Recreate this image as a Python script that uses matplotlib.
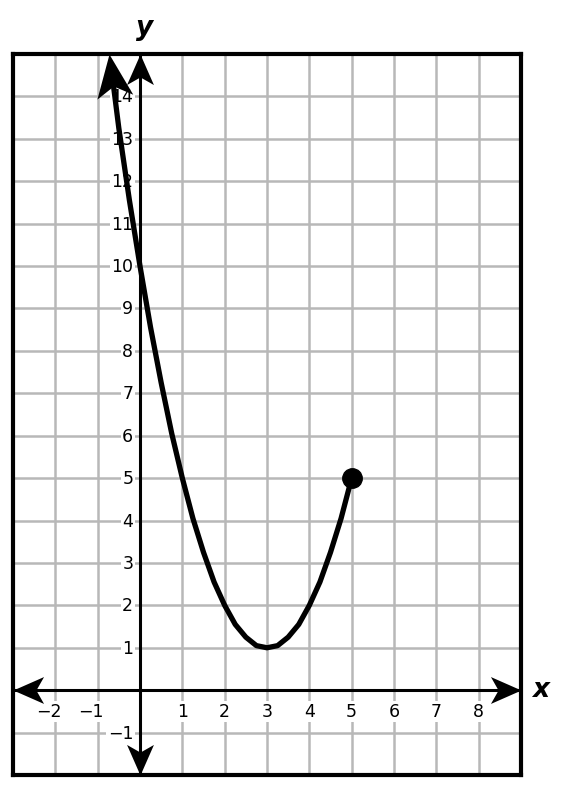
import numpy as np
import matplotlib.pyplot as plt
from matplotlib.path import Path
from matplotlib.markers import MarkerStyle
from matplotlib.transforms import Affine2D

# curve points
curve_x = [-0.74, -0.62, -0.5, -0.25, 0, 0.25, 0.5, 0.75, 1, 1.25, 1.5, 1.75, 2,
           2.25, 2.5, 2.75, 3, 3.25, 3.5, 3.75, 4, 4.25, 4.5, 4.75, 5]
curve_y = [15.0, 14.2, 13.25, 11.55, 10.0, 8.55, 7.25, 6.05, 5.0, 4.05, 3.25, 2.55, 2.0,
           1.55, 1.25, 1.05, 1.0, 1.05, 1.25, 1.55, 2.0, 2.55, 3.25, 4.05, 5.0]
end_point = (5, 5)

x_ticks = [-2, -1, 1, 2, 3, 4, 5, 6, 7, 8]
y_ticks = [-1, 1, 2, 3, 4, 5, 6, 7, 8, 9, 10, 11, 12, 13, 14]
x_range = (-3, 9)
y_range = (-2, 15)

fig = plt.figure(figsize=(5.73, 8.03), dpi=100)
ax = fig.add_axes([13/573, 27/803, 508/573, 721/803])
ax.set_xlim(*x_range)
ax.set_ylim(*y_range)
ax.set_xticks(range(x_range[0], x_range[1] + 1))
ax.set_yticks(range(y_range[0], y_range[1] + 1))
ax.tick_params(length=0, labelbottom=False, labelleft=False)
ax.grid(True, color='#b8b8b8', lw=1.8)
ax.set_axisbelow(True)
for s in ax.spines.values():
    s.set_linewidth(3)
    s.set_zorder(6)


def stealth(angle, wing):
    # arrowhead pointing along +x, tip at the origin, notched back
    verts = [(0, 0), (-1, wing), (-0.75, 0), (-1, -wing), (0, 0)]
    codes = [Path.MOVETO] + [Path.LINETO] * 3 + [Path.CLOSEPOLY]
    return MarkerStyle(Path(verts, codes), transform=Affine2D().rotate_deg(angle))


# axes with arrowheads at both ends
ax.plot(x_range, [0, 0], color='k', lw=2.2, zorder=4)
ax.plot([0, 0], y_range, color='k', lw=2.2, zorder=4)
for (px, py), ang in [((x_range[1], 0), 0), ((x_range[0], 0), 180),
                      ((0, y_range[1]), 90), ((0, y_range[0]), 270)]:
    ax.plot(px, py, marker=stealth(ang, 0.44), color='k', markersize=44,
            markeredgewidth=0, zorder=4, clip_on=False)

box = dict(facecolor='white', edgecolor='none', pad=1)
for v in x_ticks:
    if v < 0:
        ax.text(v + 0.14, -0.5, f'\u2212{-v}', ha='right', va='center', fontsize=12.5, bbox=box, zorder=3)
    else:
        ax.text(v, -0.5, str(v), ha='center', va='center', fontsize=12.5, bbox=box, zorder=3)
for v in y_ticks:
    lab = f'\u2212{-v}' if v < 0 else str(v)
    ax.text(-0.16, v, lab, ha='right', va='center', fontsize=12.5, bbox=box, zorder=3)

# the curve, arrowhead at its upper end, dot at the other
ax.plot(curve_x[1:], curve_y[1:], color='k', lw=3.8, solid_capstyle='round', zorder=5)
p0 = ax.transData.transform((curve_x[0], curve_y[0]))
p1 = ax.transData.transform((curve_x[2], curve_y[2]))
ang = np.degrees(np.arctan2(p0[1] - p1[1], p0[0] - p1[0]))
ax.plot(curve_x[0], curve_y[0], marker=stealth(ang, 0.42), color='k', markersize=62,
        markeredgewidth=0, zorder=5, clip_on=False)
ax.plot(*end_point, 'o', color='k', markersize=14, zorder=5)

fig.text(145/573, 1 - 28/803, 'y', ha='center', va='center', fontsize=19,
         fontweight='bold', style='italic')
fig.text(541/573, 1 - 690/803, 'x', ha='center', va='center', fontsize=19,
         fontweight='bold', style='italic')

fig.savefig('out.png', dpi=100)
